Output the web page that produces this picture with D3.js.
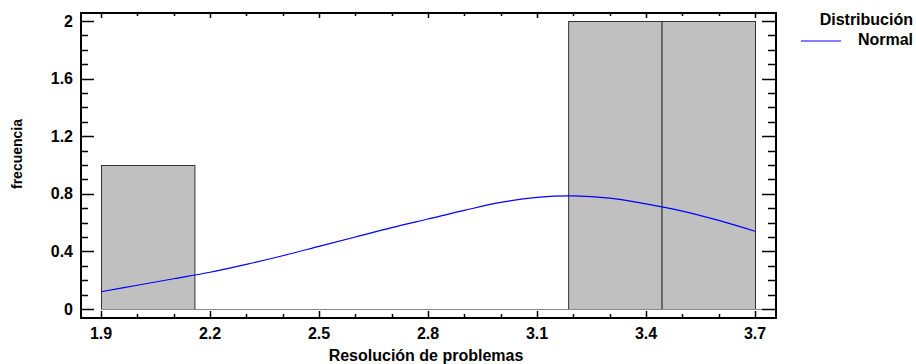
<!DOCTYPE html>
<html><head><meta charset="utf-8">
<script src="https://cdn.jsdelivr.net/npm/d3@7"></script>
<style>body{margin:0;background:#fff}svg{display:block}text{font-family:"Liberation Sans",Arial,sans-serif;font-weight:bold;font-size:16px;fill:#000}</style>
</head><body><svg id="c" width="916" height="364"></svg>
<script>
const binStarts = [1.9, 2.1571, 2.4143, 2.6714, 2.9286, 3.1857, 3.4429];
const binEnds   = [2.1571, 2.4143, 2.6714, 2.9286, 3.1857, 3.4429, 3.7];
const counts    = [1, 0, 0, 0, 0, 2, 2];
const curveX = [1.9,2.0,2.1,2.2,2.3,2.4,2.5,2.6,2.7,2.8,2.9,3.0,3.1,3.2,3.3,3.4,3.5,3.6,3.7];
const curveY = [0.12,0.165,0.21,0.255,0.31,0.37,0.435,0.5,0.565,0.625,0.685,0.74,0.775,0.785,0.77,0.73,0.68,0.615,0.54];
const xTicks = [1.9,2.2,2.5,2.8,3.1,3.4,3.7];
const yTicks = [0,0.4,0.8,1.2,1.6,2];
const xLabel = "Resolución de problemas";
const yLabel = "frecuencia";
const legendTitle = "Distribución";
const legendItem = "Normal";

const svg = d3.select("#c");
const L=81, R=776, T=13, B=318;
const x = d3.scaleLinear().domain([1.9,3.7]).range([101,755]);
const y = d3.scaleLinear().domain([0,2]).range([309,21]);

// bars
svg.append("g").selectAll("rect").data(counts.map((c,i)=>({c,s:binStarts[i],e:binEnds[i]})).filter(d=>d.c>0))
 .join("rect").attr("x",d=>x(d.s)+0.5).attr("y",d=>y(d.c)+0.5)
 .attr("width",d=>x(d.e)-x(d.s)).attr("height",d=>y(0)-y(d.c))
 .attr("fill","#c0c0c0").attr("stroke","#333").attr("stroke-width",1);
// baseline
svg.append("line").attr("x1",x(1.9)).attr("x2",R).attr("y1",y(0)+0.5).attr("y2",y(0)+0.5).attr("stroke","#888");

// curve
svg.append("path").datum(curveX.map((v,i)=>[v,curveY[i]]))
 .attr("d",d3.line().x(d=>x(d[0])).y(d=>y(d[1])).curve(d3.curveCatmullRom))
 .attr("fill","none").attr("stroke","#0000ff").attr("stroke-width",1.2);

// frame
const fr = svg.append("g").attr("stroke","#000").attr("stroke-width",2).attr("fill","none");
fr.append("rect").attr("x",L).attr("y",T).attr("width",R-L).attr("height",B-T);

// axes ticks
const minorX = d3.range(19,38).map(v=>v/10);
const minorY = d3.range(0,21).map(v=>v/10);
const tk = svg.append("g").attr("stroke","#000").attr("stroke-width",1.5);
minorX.forEach(v=>{
  const major = xTicks.some(t=>Math.abs(t-v)<1e-6);
  const px = Math.round(x(v))+0.5;
  tk.append("line").attr("x1",px).attr("x2",px).attr("y1",B).attr("y2",B-(major?7:4));
  tk.append("line").attr("x1",px).attr("x2",px).attr("y1",T).attr("y2",T+(major?5:3));
});
minorY.forEach(v=>{
  const major = yTicks.some(t=>Math.abs(t-v)<1e-6);
  const py = Math.round(y(v))+0.5;
  tk.append("line").attr("x1",L).attr("x2",L+(major?13:7)).attr("y1",py).attr("y2",py);
  tk.append("line").attr("x1",R).attr("x2",R-(major?14:8)).attr("y1",py).attr("y2",py);
});

// tick labels
svg.append("g").selectAll("text").data(xTicks).join("text")
 .attr("x",d=>x(d)).attr("y",339).attr("text-anchor","middle").text(d=>d3.format(".1f")(d));
svg.append("g").selectAll("text").data(yTicks).join("text")
 .attr("x",73).attr("y",d=>y(d)+5.5).attr("text-anchor","end").text(d=>d3.format("~g")(d));

// axis titles
svg.append("text").attr("x",426).attr("y",361).attr("text-anchor","middle").text(xLabel);
svg.append("text").attr("transform","translate(22,154) rotate(-90)").attr("text-anchor","middle")
 .style("font-size","14px").text(yLabel);

// legend
svg.append("text").attr("x",913).attr("y",25).attr("text-anchor","end").text(legendTitle);
svg.append("line").attr("x1",801).attr("x2",841).attr("y1",41).attr("y2",41).attr("stroke","#0000ff").attr("stroke-width",1.2);
svg.append("text").attr("x",913).attr("y",45).attr("text-anchor","end").text(legendItem);
</script></body></html>
